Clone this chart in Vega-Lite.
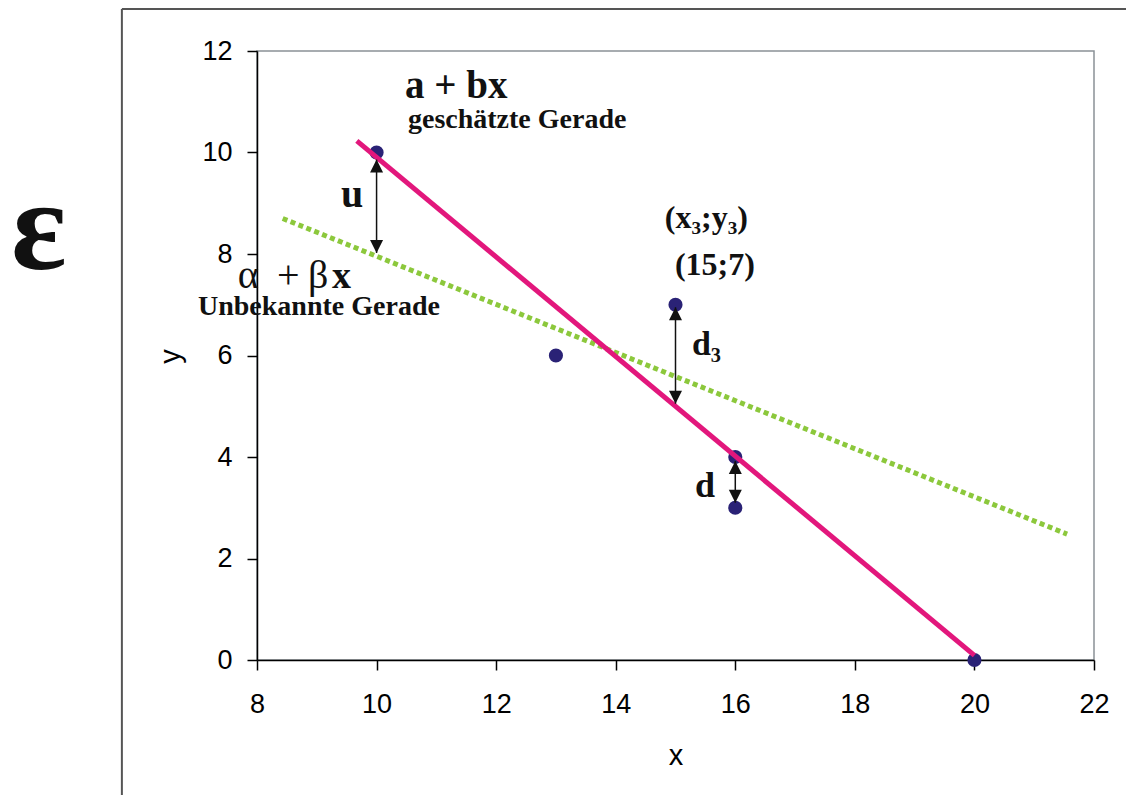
{
  "$schema": "https://vega.github.io/schema/vega-lite/v6.json",
  "width": 837,
  "height": 609,
  "autosize": {"type": "none"},
  "padding": {"left": 257, "top": 51, "right": 32, "bottom": 135},
  "background": "white",
  "config": {
    "view": {"stroke": "#8a9197", "strokeWidth": 1.5},
    "axis": {
      "domainColor": "#000",
      "domainWidth": 1.5,
      "tickColor": "#000",
      "tickWidth": 1.5,
      "tickSize": 10,
      "grid": false,
      "labelFlush": false,
      "labelOverlap": false,
      "labelFont": "Liberation Sans",
      "labelFontSize": 27,
      "labelColor": "#000",
      "titleFont": "Liberation Sans",
      "titleFontSize": 29,
      "titleFontWeight": "normal",
      "titleColor": "#000"
    }
  },
  "datasets": {
    "points": [
      {"x": 10, "y": 10},
      {"x": 13, "y": 6},
      {"x": 15, "y": 7},
      {"x": 16, "y": 4},
      {"x": 16, "y": 3},
      {"x": 20, "y": 0}
    ],
    "estimated": [
      {"x": 9.67, "y": 10.23},
      {"x": 20, "y": 0.09}
    ],
    "unknown": [
      {"x": 8.43, "y": 8.7},
      {"x": 21.55, "y": 2.48}
    ],
    "arrows": [
      {"x": 10, "y": 9.86, "y2": 8.02},
      {"x": 15, "y": 6.95, "y2": 5.05},
      {"x": 16, "y": 3.92, "y2": 3.1}
    ]
  },
  "encoding": {
    "x": {
      "field": "x",
      "type": "quantitative",
      "title": "x",
      "scale": {"domain": [8, 22], "nice": false, "zero": false},
      "axis": {"values": [8, 10, 12, 14, 16, 18, 20, 22], "labelPadding": 21, "titleX": 418.5, "titleY": 95, "titleBaseline": "middle", "titleAlign": "center"}
    },
    "y": {
      "field": "y",
      "type": "quantitative",
      "title": "y",
      "scale": {"domain": [0, 12], "nice": false, "zero": false},
      "axis": {"values": [0, 2, 4, 6, 8, 10, 12], "labelPadding": 15, "titleX": -87, "titleY": 305, "titleBaseline": "middle", "titleAlign": "center", "titleAngle": -90}
    }
  },
  "layer": [
    {
      "data": {"name": "points"},
      "mark": {"type": "point", "filled": true, "opacity": 1, "color": "#2a2276", "size": 200}
    },
    {
      "data": {"name": "unknown"},
      "mark": {"type": "line", "color": "#8cc83c", "strokeWidth": 5, "strokeDash": [5, 3.5]}
    },
    {
      "data": {"name": "estimated"},
      "mark": {"type": "line", "color": "#e2177c", "strokeWidth": 5}
    },
    {
      "data": {"name": "arrows"},
      "mark": {"type": "rule", "color": "#111", "strokeWidth": 1.5},
      "encoding": {"y2": {"field": "y2"}}
    },
    {
      "data": {"name": "arrows"},
      "mark": {"type": "point", "filled": true, "opacity": 1, "color": "#111", "size": 169, "shape": "M0,0L-1,2L1,2Z"}
    },
    {
      "data": {"name": "arrows"},
      "mark": {"type": "point", "filled": true, "opacity": 1, "color": "#111", "size": 169, "shape": "M0,0L-1,-2L1,-2Z"},
      "encoding": {"y": {"field": "y2", "type": "quantitative"}}
    },
    {
      "data": {"values": [{"x": 5.74, "x2": 23, "y": 12.83}]},
      "mark": {"type": "rule", "color": "#555", "strokeWidth": 2},
      "encoding": {"x2": {"field": "x2"}}
    },
    {
      "data": {"values": [{"x": 5.74, "y": 12.83, "y2": -3}]},
      "mark": {"type": "rule", "color": "#555", "strokeWidth": 2},
      "encoding": {"y2": {"field": "y2"}}
    },
    {
      "data": {"values": [
        {"x": 10.475, "y": 11.07, "label": "a + bx", "size": 39},
        {"x": 9.405, "y": 8.93, "label": "u", "size": 40},
        {"x": 15.275, "y": 6.01, "label": "d₃", "size": 34},
        {"x": 15.325, "y": 3.21, "label": "d", "size": 36},
        {"x": 14.82, "y": 8.51, "label": "(x₃;y₃)", "size": 32},
        {"x": 14.99, "y": 7.59, "label": "(15;7)", "size": 32},
        {"x": 9.254, "y": 7.33, "label": "x", "size": 38}
      ]},
      "mark": {"type": "text", "font": "Liberation Serif", "fontWeight": "bold", "align": "left", "baseline": "alphabetic", "color": "#111"},
      "encoding": {"text": {"field": "label"}, "size": {"field": "size", "type": "quantitative", "scale": null}}
    },
    {
      "data": {"values": [
        {"x": 10.525, "y": 10.48, "label": "geschätzte Gerade"},
        {"x": 7.013, "y": 6.8, "label": "Unbekannte Gerade"}
      ]},
      "mark": {"type": "text", "font": "Liberation Serif", "fontWeight": "bold", "fontSize": 28, "align": "left", "baseline": "alphabetic", "color": "#111"},
      "encoding": {"text": {"field": "label"}}
    },
    {
      "data": {"values": [
        {"x": 7.68, "y": 7.33, "label": "α"},
        {"x": 8.334, "y": 7.33, "label": "+"},
        {"x": 8.853, "y": 7.33, "label": "β"}
      ]},
      "mark": {"type": "text", "font": "Liberation Serif", "fontSize": 40, "align": "left", "baseline": "alphabetic", "color": "#111"},
      "encoding": {"text": {"field": "label"}}
    },
    {
      "data": {"values": [{"x": 3.886, "y": 7.7, "label": "ε"}]},
      "mark": {"type": "text", "font": "Liberation Serif", "fontWeight": "bold", "fontSize": 130, "align": "left", "baseline": "alphabetic", "color": "#111"},
      "encoding": {"text": {"field": "label"}}
    }
  ]
}
